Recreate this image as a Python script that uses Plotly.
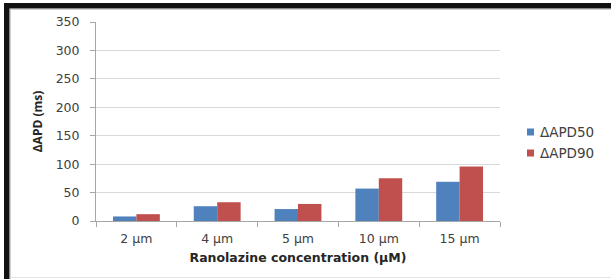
import plotly.graph_objects as go

categories = ["2 µm", "4 µm", "5 µm", "10 µm", "15 µm"]
apd50 = [8, 26, 21, 57, 69]
apd90 = [12, 33, 30, 75, 96]
series_names = ["ΔAPD50", "ΔAPD90"]
series_colors = ["#4F81BD", "#C0504D"]
y_ticks = [0, 50, 100, 150, 200, 250, 300, 350]

W, H = 611, 279
L, R, T, B = 96, 111, 22, 58
pw, ph = W - L - R, H - T - B

def px(x):
    return (x - L) / pw

def py(y):
    return (H - B - y) / ph

FONT = "'DejaVu Sans', sans-serif"
FONT_V = "'Open Sans', sans-serif"

fig = go.Figure()
for name, vals, col in zip(series_names, [apd50, apd90], series_colors):
    fig.add_trace(go.Bar(x=categories, y=vals, name=name,
                         marker=dict(color=col, line=dict(width=0)), showlegend=False))

shapes = [
    dict(type="line", xref="paper", yref="paper", x0=px(10), x1=px(611), y0=py(9.5), y1=py(9.5),
         line=dict(color="#d0d0d0", width=1)),
    dict(type="line", xref="paper", yref="paper", x0=px(10.5), x1=px(10.5), y0=py(279), y1=py(9),
         line=dict(color="#d0d0d0", width=1)),
    dict(type="line", xref="paper", yref="paper", x0=px(10), x1=px(611), y0=py(277.5), y1=py(277.5),
         line=dict(color="#e4e4e4", width=1)),
    dict(type="line", xref="paper", yref="paper", x0=px(4), x1=px(611), y0=py(5.75), y1=py(5.75),
         line=dict(color="#111111", width=5.5)),
    dict(type="line", xref="paper", yref="paper", x0=px(6.75), x1=px(6.75), y0=py(279), y1=py(3),
         line=dict(color="#111111", width=5.5)),
]

annotations = []
legend_y = [132, 153]
for name, col, ly in zip(series_names, series_colors, legend_y):
    shapes.append(dict(type="rect", xref="paper", yref="paper",
                       x0=px(527), x1=px(534), y0=py(ly + 3.5), y1=py(ly - 3.5),
                       fillcolor=col, line=dict(width=0)))
    annotations.append(dict(text=name, xref="paper", yref="paper", x=px(538), y=py(ly),
                            xanchor="left", yanchor="middle", showarrow=False,
                            font=dict(family=FONT, size=13.5, color="#404040")))

fig.update_layout(
    width=W, height=H,
    margin=dict(l=L, r=R, t=T, b=B, pad=0),
    paper_bgcolor="white", plot_bgcolor="white",
    barmode="group", bargap=0.42, bargroupgap=0,
    font=dict(family=FONT, size=12, color="#404040"),
    showlegend=False,
    shapes=shapes,
    annotations=annotations,
    xaxis=dict(
        showgrid=False, showline=True, linecolor="#a6a6a6", linewidth=1,
        ticks="outside", ticklen=5, tickcolor="#a6a6a6", tickson="boundaries",
        ticklabelstandoff=6,
        tickfont=dict(family=FONT, size=12.5, color="#404040"),
        title=dict(text="<b>Ranolazine concentration (µM)</b>", standoff=8,
                   font=dict(family=FONT, size=12.5, color="#262626")),
    ),
    yaxis=dict(
        range=[0, 350], tickvals=y_ticks, showgrid=True, gridcolor="#d9d9d9", gridwidth=1,
        showline=True, linecolor="#a6a6a6", linewidth=1,
        ticks="outside", ticklen=5, tickcolor="#a6a6a6",
        ticklabelstandoff=8,
        tickfont=dict(family=FONT, size=12.5, color="#404040"),
        zeroline=False,
        title=dict(text="<b>ΔAPD (ms)</b>", standoff=10,
                   font=dict(family=FONT_V, size=12, color="#262626")),
    ),
)

fig.write_html("out.html", config={"displayModeBar": False},
               post_script="document.body.style.margin='0';document.body.style.padding='0';")
